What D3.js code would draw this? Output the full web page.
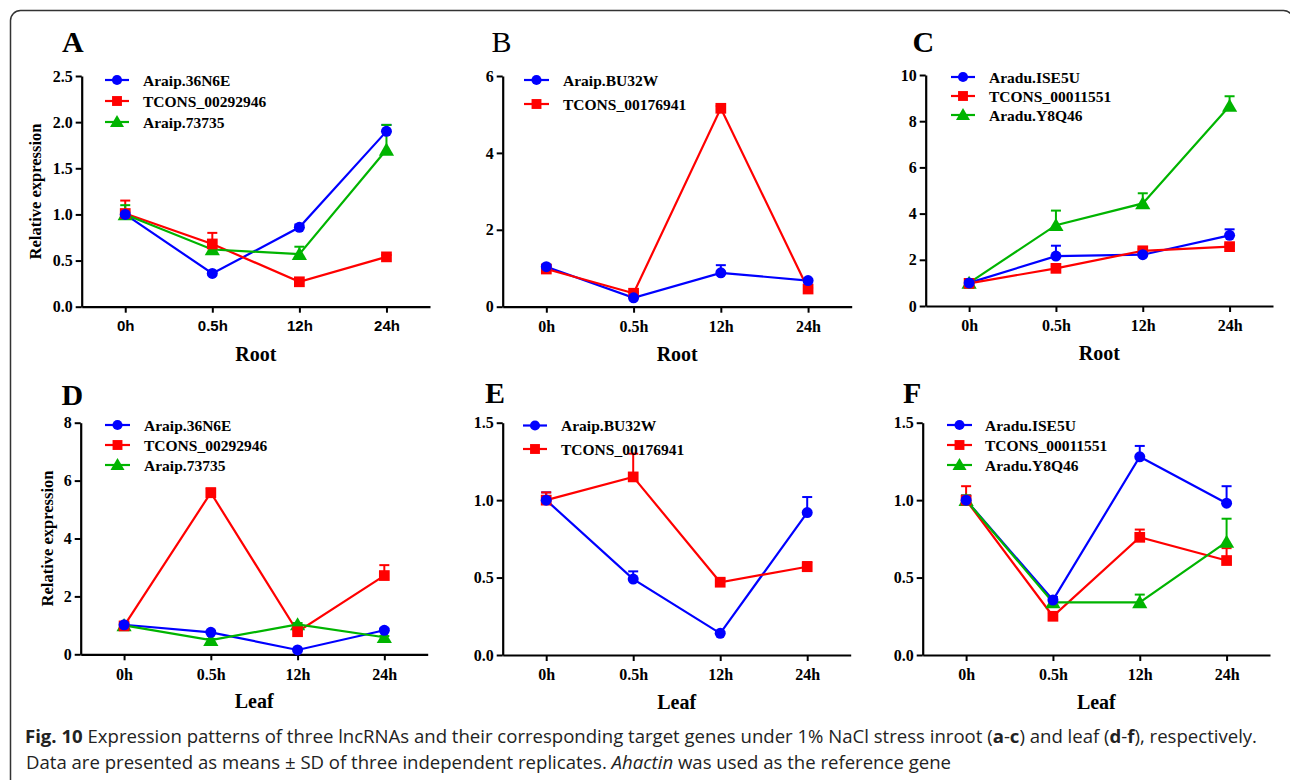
<!DOCTYPE html>
<html lang="en">
<head>
<meta charset="utf-8">
<title>Fig. 10 lncRNA expression</title>
<script src="https://cdn.jsdelivr.net/npm/d3@7"></script>
<style>
  body { margin: 0; background: #fff; }
  svg { display: block; }
  .tick text { font-family: "Liberation Serif", "Times New Roman", serif; font-weight: bold; fill: #000; }
</style>
</head>
<body>
<svg id="fig" width="1290" height="780"></svg>
<script>

// time points and tick values
var timeLabels = ["0h", "0.5h", "12h", "24h"];
var yTicksA = [0, 0.5, 1.0, 1.5, 2.0, 2.5];
var yTicksB = [0, 2, 4, 6];
var yTicksC = [0, 2, 4, 6, 8, 10];
var yTicksD = [0, 2, 4, 6, 8];
var yTicksEF = [0, 0.5, 1.0, 1.5];

// series names
var namesAD = ["Araip.36N6E", "TCONS_00292946", "Araip.73735"];
var namesBE = ["Araip.BU32W", "TCONS_00176941"];
var namesCF = ["Aradu.ISE5U", "TCONS_00011551", "Aradu.Y8Q46"];

// A - root
var rootA_36N6E = [1.00, 0.36, 0.86, 1.90];
var rootA_36N6E_sd = [0.03, 0.02, 0.03, 0.07];
var rootA_TCONS = [1.01, 0.68, 0.27, 0.54];
var rootA_TCONS_sd = [0.14, 0.12, 0.02, 0.02];
var rootA_73735 = [1.00, 0.62, 0.57, 1.70];
var rootA_73735_sd = [0.10, 0.03, 0.08, 0.27];

// B - root
var rootB_BU32W = [1.04, 0.23, 0.88, 0.68];
var rootB_BU32W_sd = [0.05, 0.03, 0.20, 0.03];
var rootB_TCONS = [0.98, 0.35, 5.16, 0.46];
var rootB_TCONS_sd = [0.04, 0.03, 0.06, 0.03];

// C - root
var rootC_ISE5U = [1.00, 2.16, 2.22, 3.06];
var rootC_ISE5U_sd = [0.05, 0.45, 0.08, 0.26];
var rootC_TCONS = [0.98, 1.63, 2.39, 2.57];
var rootC_TCONS_sd = [0.05, 0.08, 0.08, 0.10];
var rootC_Y8Q46 = [1.00, 3.50, 4.44, 8.66];
var rootC_Y8Q46_sd = [0.05, 0.63, 0.44, 0.42];

// D - leaf
var leafD_36N6E = [1.02, 0.76, 0.15, 0.83];
var leafD_36N6E_sd = [0.05, 0.05, 0.03, 0.06];
var leafD_TCONS = [0.98, 5.58, 0.78, 2.72];
var leafD_TCONS_sd = [0.05, 0.15, 0.05, 0.36];
var leafD_73735 = [1.00, 0.49, 1.03, 0.59];
var leafD_73735_sd = [0.04, 0.04, 0.05, 0.04];

// E - leaf
var leafE_BU32W = [1.00, 0.49, 0.14, 0.92];
var leafE_BU32W_sd = [0.05, 0.05, 0.01, 0.10];
var leafE_TCONS = [1.00, 1.15, 0.47, 0.57];
var leafE_TCONS_sd = [0.05, 0.15, 0.02, 0.03];

// F - leaf
var leafF_ISE5U = [1.00, 0.355, 1.28, 0.98];
var leafF_ISE5U_sd = [0.03, 0.02, 0.07, 0.11];
var leafF_TCONS = [1.00, 0.25, 0.76, 0.61];
var leafF_TCONS_sd = [0.09, 0.02, 0.05, 0.08];
var leafF_Y8Q46 = [1.00, 0.34, 0.34, 0.73];
var leafF_Y8Q46_sd = [0.03, 0.02, 0.05, 0.15];

var blue = "#0000ff", red = "#ff0000", green = "#00b400";
var serif = "'Liberation Serif', 'Times New Roman', serif";

function series(names, vals, sds, shapes, colors) {
  return names.map(function(n, i) {
    return { name: n, values: vals[i], sd: sds[i], shape: shapes[i], color: colors[i] };
  });
}

var shapes3 = [d3.symbolCircle, d3.symbolSquare, d3.symbolTriangle];
var colors3 = [blue, red, green];

// panel layout
var panels = [
  { letter: "A", bold: true, left: 81.7, right: 430, top: 76, bottom: 306.7, ticks: yTicksA, fmt: ".1f",
    xTitle: "Root", yTitle: { x: 41, y: 191.5 }, sansX: true, letterX: 62, letterY: 52,
    legend: { x0: 105, x1: 129, tx: 143, ys: [80, 101, 122] },
    data: series(namesAD, [rootA_36N6E, rootA_TCONS, rootA_73735], [rootA_36N6E_sd, rootA_TCONS_sd, rootA_73735_sd], shapes3, colors3) },
  { letter: "B", bold: false, left: 502.7, right: 851.7, top: 76, bottom: 306.7, ticks: yTicksB, fmt: "d",
    xTitle: "Root", letterX: 491.5, letterY: 52,
    legend: { x0: 524, x1: 549, tx: 563, ys: [80, 104] },
    data: series(namesBE, [rootB_BU32W, rootB_TCONS], [rootB_BU32W_sd, rootB_TCONS_sd], shapes3, colors3) },
  { letter: "C", bold: true, left: 925.7, right: 1273, top: 75, bottom: 306, ticks: yTicksC, fmt: "d",
    xTitle: "Root", letterX: 912.5, letterY: 52,
    legend: { x0: 951, x1: 975, tx: 989, ys: [77, 96, 115] },
    data: series(namesCF, [rootC_ISE5U, rootC_TCONS, rootC_Y8Q46], [rootC_ISE5U_sd, rootC_TCONS_sd, rootC_Y8Q46_sd], shapes3, colors3) },
  { letter: "D", bold: true, left: 80.7, right: 427.7, top: 422.7, bottom: 654.3, ticks: yTicksD, fmt: "d",
    xTitle: "Leaf", yTitle: { x: 53, y: 538.5 }, letterX: 61.5, letterY: 405,
    legend: { x0: 105, x1: 130, tx: 144, ys: [425, 445, 465] },
    data: series(namesAD, [leafD_36N6E, leafD_TCONS, leafD_73735], [leafD_36N6E_sd, leafD_TCONS_sd, leafD_73735_sd], shapes3, colors3) },
  { letter: "E", bold: true, left: 502.7, right: 850.7, top: 422.7, bottom: 655, ticks: yTicksEF, fmt: ".1f",
    xTitle: "Leaf", letterX: 485, letterY: 403,
    legend: { x0: 523, x1: 547, tx: 561, ys: [425.5, 449] },
    data: series(namesBE, [leafE_BU32W, leafE_TCONS], [leafE_BU32W_sd, leafE_TCONS_sd], shapes3, colors3) },
  { letter: "F", bold: true, left: 922.7, right: 1270, top: 422.7, bottom: 655, ticks: yTicksEF, fmt: ".1f",
    xTitle: "Leaf", letterX: 903, letterY: 403,
    legend: { x0: 947, x1: 972, tx: 985, ys: [425, 445, 465] },
    data: series(namesCF, [leafF_ISE5U, leafF_TCONS, leafF_Y8Q46], [leafF_ISE5U_sd, leafF_TCONS_sd, leafF_Y8Q46_sd], shapes3, colors3) }
];

var svg = d3.select("#fig");

// frame
svg.append("rect")
  .attr("x", 10.5).attr("y", 10.5)
  .attr("width", 1283).attr("height", 790)
  .attr("rx", 10).attr("ry", 10)
  .attr("fill", "none").attr("stroke", "#333").attr("stroke-width", 1.5);

function symSize(shape) {
  if (shape === d3.symbolSquare) return 115;
  if (shape === d3.symbolTriangle) return 100;
  return 95;
}

panels.forEach(function(p) {
  var g = svg.append("g");
  var x = d3.scalePoint().domain(timeLabels).range([p.left, p.right]).padding(0.5);
  var ymax = p.ticks[p.ticks.length - 1];
  var y = d3.scaleLinear().domain([0, ymax]).range([p.bottom, p.top]);

  // panel letter
  g.append("text")
    .attr("x", p.letterX).attr("y", p.letterY)
    .attr("font-family", serif).attr("font-size", 30)
    .attr("font-weight", p.bold ? "bold" : "normal")
    .text(p.letter);

  // axes
  var ya = g.append("g").attr("transform", "translate(" + p.left + ",0)")
    .call(d3.axisLeft(y).tickValues(p.ticks).tickFormat(d3.format(p.fmt)).tickSize(6).tickSizeOuter(0).tickPadding(3));
  ya.selectAll("text").attr("font-size", 16);

  var xa = g.append("g").attr("transform", "translate(0," + p.bottom + ")")
    .call(d3.axisBottom(x).tickSize(6).tickSizeOuter(0).tickPadding(8));
  xa.selectAll("text").attr("font-size", p.sansX ? 15 : 16)
    .style("font-family", p.sansX ? "'Liberation Sans', Arial, sans-serif" : null);

  [ya, xa].forEach(function(a) {
    a.select(".domain").attr("stroke", "#000").attr("stroke-width", 2.2);
    a.selectAll(".tick line").attr("stroke", "#000").attr("stroke-width", 2);
  });

  // axis titles
  g.append("text")
    .attr("x", (x(timeLabels[0]) + x(timeLabels[3])) / 2)
    .attr("y", p.bottom + 54)
    .attr("text-anchor", "middle")
    .attr("font-family", serif).attr("font-weight", "bold").attr("font-size", 20)
    .text(p.xTitle);

  if (p.yTitle) {
    g.append("text")
      .attr("transform", "translate(" + p.yTitle.x + "," + p.yTitle.y + ") rotate(-90)")
      .attr("text-anchor", "middle")
      .attr("font-family", serif).attr("font-weight", "bold").attr("font-size", 16.5)
      .text("Relative expression");
  }

  var line = d3.line().x(function(d, i) { return x(timeLabels[i]); }).y(function(d) { return y(d); });

  // lines and error bars
  p.data.forEach(function(s) {
    g.append("path").datum(s.values)
      .attr("d", line).attr("fill", "none")
      .attr("stroke", s.color).attr("stroke-width", 2.2);

    var eb = g.append("g").selectAll("g").data(s.values).join("g");
    eb.append("line")
      .attr("x1", function(d, i) { return x(timeLabels[i]); })
      .attr("x2", function(d, i) { return x(timeLabels[i]); })
      .attr("y1", function(d) { return y(d); })
      .attr("y2", function(d, i) { return y(d + s.sd[i]); })
      .attr("stroke", s.color).attr("stroke-width", 2);
    eb.append("line")
      .attr("x1", function(d, i) { return x(timeLabels[i]) - 5; })
      .attr("x2", function(d, i) { return x(timeLabels[i]) + 5; })
      .attr("y1", function(d, i) { return y(d + s.sd[i]); })
      .attr("y2", function(d, i) { return y(d + s.sd[i]); })
      .attr("stroke", s.color).attr("stroke-width", 2);
  });

  // markers, first series on top
  p.data.slice().reverse().forEach(function(s) {
    g.append("g").selectAll("path").data(s.values).join("path")
      .attr("transform", function(d, i) {
        var dy = s.shape === d3.symbolTriangle ? 1.5 : 0;
        return "translate(" + x(timeLabels[i]) + "," + (y(d) + dy) + ")";
      })
      .attr("d", d3.symbol().type(s.shape).size(symSize(s.shape)))
      .attr("fill", s.color);
  });

  // legend
  var lg = g.append("g");
  p.data.forEach(function(s, i) {
    var ly = p.legend.ys[i];
    lg.append("line")
      .attr("x1", p.legend.x0).attr("x2", p.legend.x1)
      .attr("y1", ly).attr("y2", ly)
      .attr("stroke", s.color).attr("stroke-width", 2.2);
    lg.append("path")
      .attr("transform", "translate(" + (p.legend.x0 + p.legend.x1) / 2 + "," + (ly + (s.shape === d3.symbolTriangle ? 1 : 0)) + ")")
      .attr("d", d3.symbol().type(s.shape).size(symSize(s.shape) * 0.85))
      .attr("fill", s.color);
    lg.append("text")
      .attr("x", p.legend.tx).attr("y", ly + 5.5)
      .attr("font-family", serif).attr("font-weight", "bold").attr("font-size", 15.5)
      .text(s.name);
  });
});

// caption
var cap = svg.append("g")
  .attr("font-family", "'Open Sans', 'Noto Sans', sans-serif")
  .attr("font-size", 18.5).attr("fill", "#222");

var l1 = cap.append("text").attr("x", 25).attr("y", 743)
  .attr("textLength", 1232).attr("lengthAdjust", "spacingAndGlyphs");
l1.append("tspan").attr("font-weight", "bold").text("Fig. 10");
l1.append("tspan").text(" Expression patterns of three lncRNAs and their corresponding target genes under 1% NaCl stress inroot (");
l1.append("tspan").attr("font-weight", "bold").text("a");
l1.append("tspan").text("-");
l1.append("tspan").attr("font-weight", "bold").text("c");
l1.append("tspan").text(") and leaf (");
l1.append("tspan").attr("font-weight", "bold").text("d");
l1.append("tspan").text("-");
l1.append("tspan").attr("font-weight", "bold").text("f");
l1.append("tspan").text("), respectively.");

var l2 = cap.append("text").attr("x", 26).attr("y", 769)
  .attr("textLength", 925).attr("lengthAdjust", "spacingAndGlyphs");
l2.append("tspan").text("Data are presented as means \u00b1 SD of three independent replicates. ");
l2.append("tspan").attr("font-style", "italic").text("Ahactin");
l2.append("tspan").text(" was used as the reference gene");

</script>
</body>
</html>
